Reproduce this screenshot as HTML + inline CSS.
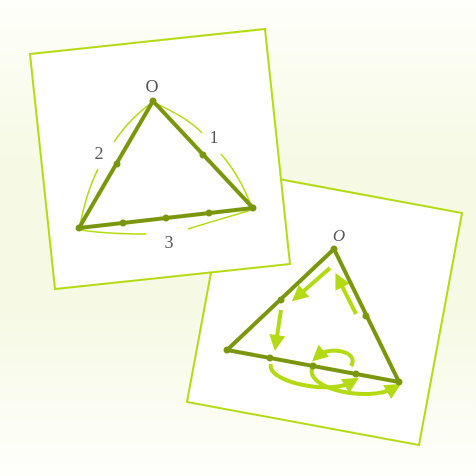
<!DOCTYPE html>
<html><head><meta charset="utf-8"><style>
html,body{margin:0;padding:0;}
body{width:476px;height:476px;overflow:hidden;background:linear-gradient(#fefffa 0%,#f6f9e4 35%,#f6f9e4 65%,#fefffb 100%);}
svg{display:block}
text{font-family:"Liberation Serif",serif;fill:#555;}
</style></head><body>
<svg width="476" height="476" viewBox="0 0 476 476">
<defs>
<marker id="ah" markerWidth="4" markerHeight="4" refX="2" refY="2" orient="auto" markerUnits="strokeWidth"><path d="M0,0 L4,2 L0,4 Z" fill="#b3da12"/></marker>
</defs>
<g>
<polygon points="230,170 462,213 419,445 187,402" fill="#fff" stroke="#b3da12" stroke-width="2"/>
<text x="339" y="241" font-size="17" font-style="italic" text-anchor="middle">O</text>
<g fill="none" stroke="#b3da12" stroke-width="4" marker-end="url(#ah)">
<path d="M330,268 L298,296"/>
<path d="M281,310 L276,343"/>
<path d="M356,314 L339,280"/>
<path d="M271,364 C266,382 330,395 352,382"/>
<path d="M312,368 C306,390 370,402 394,388"/>
<path d="M351,366 C360,352 330,345 318,356"/>
</g>
<g stroke="#7a960c" stroke-width="4" fill="none" stroke-linejoin="round"><polygon points="334,249 227,350 399,382"/></g>
<g fill="#7a960c"><circle cx="334" cy="249" r="3.5"/><circle cx="227" cy="350" r="3.5"/><circle cx="399" cy="382" r="3.5"/><circle cx="281" cy="300" r="3.5"/><circle cx="366" cy="316" r="3.5"/><circle cx="270" cy="358" r="3.5"/><circle cx="313" cy="366" r="3.5"/><circle cx="356" cy="374" r="3.5"/></g>
</g>
<g>
<polygon points="30,54 265,29 290,264 55,289" fill="#fff" stroke="#b3da12" stroke-width="2"/>
<g fill="none" stroke="#b3da12" stroke-width="1.5">
<path d="M155,103 C170,110 190,120 202,133"/>
<path d="M221,154 C235,170 245,190 251,205"/>
<path d="M150,104 C135,115 124,127 114,142"/>
<path d="M98,169 C90,185 84,205 80,225"/>
<path d="M81,230 C100,233 120,234 146,234"/>
<path d="M188,229 C210,222 235,215 251,210"/>
</g>
<text x="152" y="92" font-size="18" text-anchor="middle">O</text>
<text x="214" y="143" font-size="18" text-anchor="middle">1</text>
<text x="99" y="159" font-size="18" text-anchor="middle">2</text>
<text x="169" y="248" font-size="18" text-anchor="middle">3</text>
<g stroke="#7a960c" stroke-width="4" fill="none" stroke-linejoin="round"><polygon points="153,101 253,208 79,228"/></g>
<g fill="#7a960c"><circle cx="153" cy="101" r="3.5"/><circle cx="253" cy="208" r="3.5"/><circle cx="79" cy="228" r="3.5"/><circle cx="117" cy="164" r="3.5"/><circle cx="203" cy="155" r="3.5"/><circle cx="123" cy="223" r="3.5"/><circle cx="166" cy="218" r="3.5"/><circle cx="209" cy="213" r="3.5"/></g>
</g>
</svg>
</body></html>
